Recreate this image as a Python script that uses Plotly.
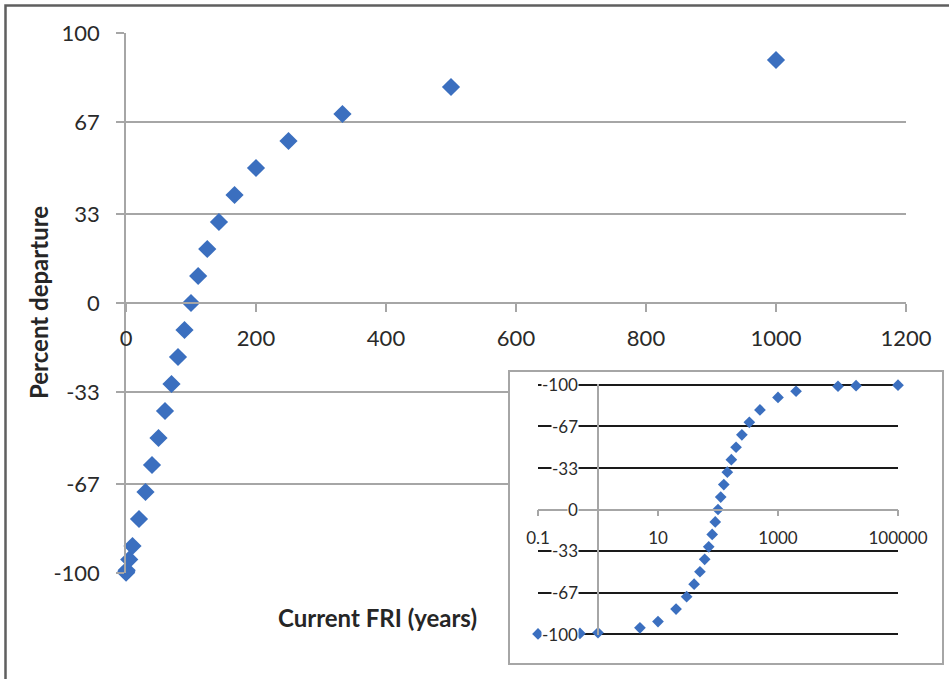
import plotly.graph_objects as go

# ---- data ----
fri_years = [0.1, 0.5, 1, 5, 10, 20, 30, 40, 50, 60, 70, 80, 90, 100, 111, 125,
             143, 167, 200, 250, 333, 500, 1000, 2000, 10000, 20000, 100000]
percent_departure = [-99.9, -99.5, -99, -95, -90, -80, -70, -60, -50, -40, -30, -20,
                     -10, 0, 10, 20, 30, 40, 50, 60, 70, 80, 90, 95, 99, 99.5, 99.9]

main_x_ticks = [0, 200, 400, 600, 800, 1000, 1200]
main_y_ticks = [-100, -67, -33, 0, 33, 67, 100]
main_y_labels = ["-100", "-67", "-33", "0", "33", "67", "100"]

inset_x_ticks = [0.1, 10, 1000, 100000]
inset_x_labels = ["0.1", "10", "1000", "100000"]
inset_y_ticks = [100, 67, 33, 0, -33, -67, -100]
inset_y_labels = ["-100", "-67", "-33", "0", "-33", "-67", "-100"]

x_title = "Current FRI (years)"
y_title = "Percent departure"

# ---- layout helpers (pixel -> paper) ----
W, H = 949, 679
def px(p):
    return p / W
def py(p):
    return 1 - p / H

BLUE = "#3B6FBF"
GRID = "#A6A6A6"
TXT = "#2a2a2a"
FONT = "Lato"

fig = go.Figure()

# main scatter
fig.add_trace(go.Scatter(
    x=fri_years, y=percent_departure, mode="markers",
    marker=dict(symbol="diamond", size=14, color=BLUE),
    cliponaxis=False, xaxis="x", yaxis="y", hoverinfo="skip"))

# dummy subplot = inset frame (white box covering main gridlines)
fig.add_trace(go.Scatter(x=[None], y=[None], xaxis="x2", yaxis="y2",
                         mode="markers", hoverinfo="skip"))

# inset scatter (log x)
fig.add_trace(go.Scatter(
    x=fri_years, y=percent_departure, mode="markers",
    marker=dict(symbol="diamond", size=9, color=BLUE),
    cliponaxis=False, xaxis="x3", yaxis="y3", hoverinfo="skip"))

main_xdom = [px(126), px(906)]
main_ydom = [py(573), py(33)]
inset_xdom = [px(538), px(898)]
# inset y: +-100 at pixel rows 634 / 385; range padded slightly so edge gridlines draw
inset_pad = 101.0
inset_mid, inset_half = 509.5, 124.5
inset_ydom = [py(inset_mid + inset_half * inset_pad / 100.0),
              py(inset_mid - inset_half * inset_pad / 100.0)]
inset_yaxis_pos = inset_xdom[0] + (inset_xdom[1] - inset_xdom[0]) / 6.0
inset_xaxis_pos = (inset_ydom[0] + inset_ydom[1]) / 2.0

layout = dict(
    template="none",
    width=W, height=H,
    margin=dict(l=0, r=0, t=0, b=0, pad=0, autoexpand=False),
    paper_bgcolor="white", plot_bgcolor="white",
    showlegend=False,
    font=dict(family=FONT, color=TXT),
    xaxis=dict(
        domain=main_xdom, range=[0, 1200], anchor="free",
        position=(main_ydom[0] + main_ydom[1]) / 2.0, automargin=False,
        tickvals=main_x_ticks, ticktext=[str(v) for v in main_x_ticks],
        ticks="outside", ticklen=8, tickwidth=1.5, tickcolor=GRID,
        showline=True, linecolor=GRID, linewidth=1.5,
        showgrid=False, zeroline=False,
        tickfont=dict(size=22, color=TXT, family=FONT),
        ticklabelstandoff=8,
    ),
    yaxis=dict(
        domain=main_ydom, range=[-100, 100], anchor="x", automargin=False,
        tickvals=main_y_ticks, ticktext=main_y_labels,
        ticks="outside", ticklen=8, tickwidth=1.5, tickcolor=GRID,
        showline=True, linecolor=GRID, linewidth=1.5,
        showgrid=True, gridcolor=GRID, gridwidth=1.5, zeroline=False,
        tickfont=dict(size=22, color=TXT, family=FONT),
        ticklabelstandoff=12,
    ),
    xaxis2=dict(
        domain=[px(510), px(942)], range=[0, 1], anchor="y2", automargin=False,
        showline=True, mirror=True, linecolor=GRID, linewidth=1.5,
        showgrid=False, zeroline=False, showticklabels=False, ticks="",
    ),
    yaxis2=dict(
        domain=[py(663), py(372)], range=[0, 1], anchor="x2", automargin=False,
        showline=True, mirror=True, linecolor=GRID, linewidth=1.5,
        showgrid=False, zeroline=False, showticklabels=False, ticks="",
    ),
    xaxis3=dict(
        type="log", domain=inset_xdom, range=[-1, 5], anchor="free",
        position=inset_xaxis_pos, automargin=False,
        tickvals=inset_x_ticks, ticktext=inset_x_labels,
        ticks="outside", ticklen=6, tickwidth=1.5, tickcolor=GRID,
        showline=True, linecolor=GRID, linewidth=1.5,
        showgrid=False, zeroline=False,
        tickfont=dict(size=17, color=TXT, family=FONT),
        ticklabelstandoff=7,
    ),
    yaxis3=dict(
        domain=inset_ydom, range=[-inset_pad, inset_pad], anchor="free",
        position=inset_yaxis_pos, automargin=False,
        tickvals=[v for v in inset_y_ticks if v != 0],
        showticklabels=False, ticks="",
        showline=True, linecolor=GRID, linewidth=1.5,
        showgrid=True, gridcolor="#1a1a1a", gridwidth=1.5, zeroline=False,
    ),
)
fig.update_layout(**layout)

annotations = []
# inset y tick labels (white background over the gridlines)
for v, t in zip(inset_y_ticks, inset_y_labels):
    annotations.append(dict(
        x=inset_yaxis_pos, xref="paper", y=v, yref="y3",
        text=t, showarrow=False, xanchor="right", yanchor="middle",
        xshift=-19, bgcolor="white", borderpad=0,
        font=dict(size=17, color=TXT, family=FONT)))
# axis titles
annotations.append(dict(
    x=px(377), y=py(617), xref="paper", yref="paper", text="<b>%s</b>" % x_title,
    showarrow=False, xanchor="center", yanchor="middle",
    font=dict(size=24, color="#262626", family=FONT)))
annotations.append(dict(
    x=px(38), y=py(303), xref="paper", yref="paper", text="<b>%s</b>" % y_title,
    showarrow=False, xanchor="center", yanchor="middle", textangle=-90,
    font=dict(size=24, color="#262626", family=FONT)))
fig.update_layout(annotations=annotations)

# outer frame (left and top edges visible)
fig.add_shape(type="rect", xref="paper", yref="paper",
              x0=px(5.5), y0=py(5.5), x1=1.05, y1=-0.05,
              line=dict(color="#5f5f5f", width=2.5), layer="above")

fig.write_html("out.html")
